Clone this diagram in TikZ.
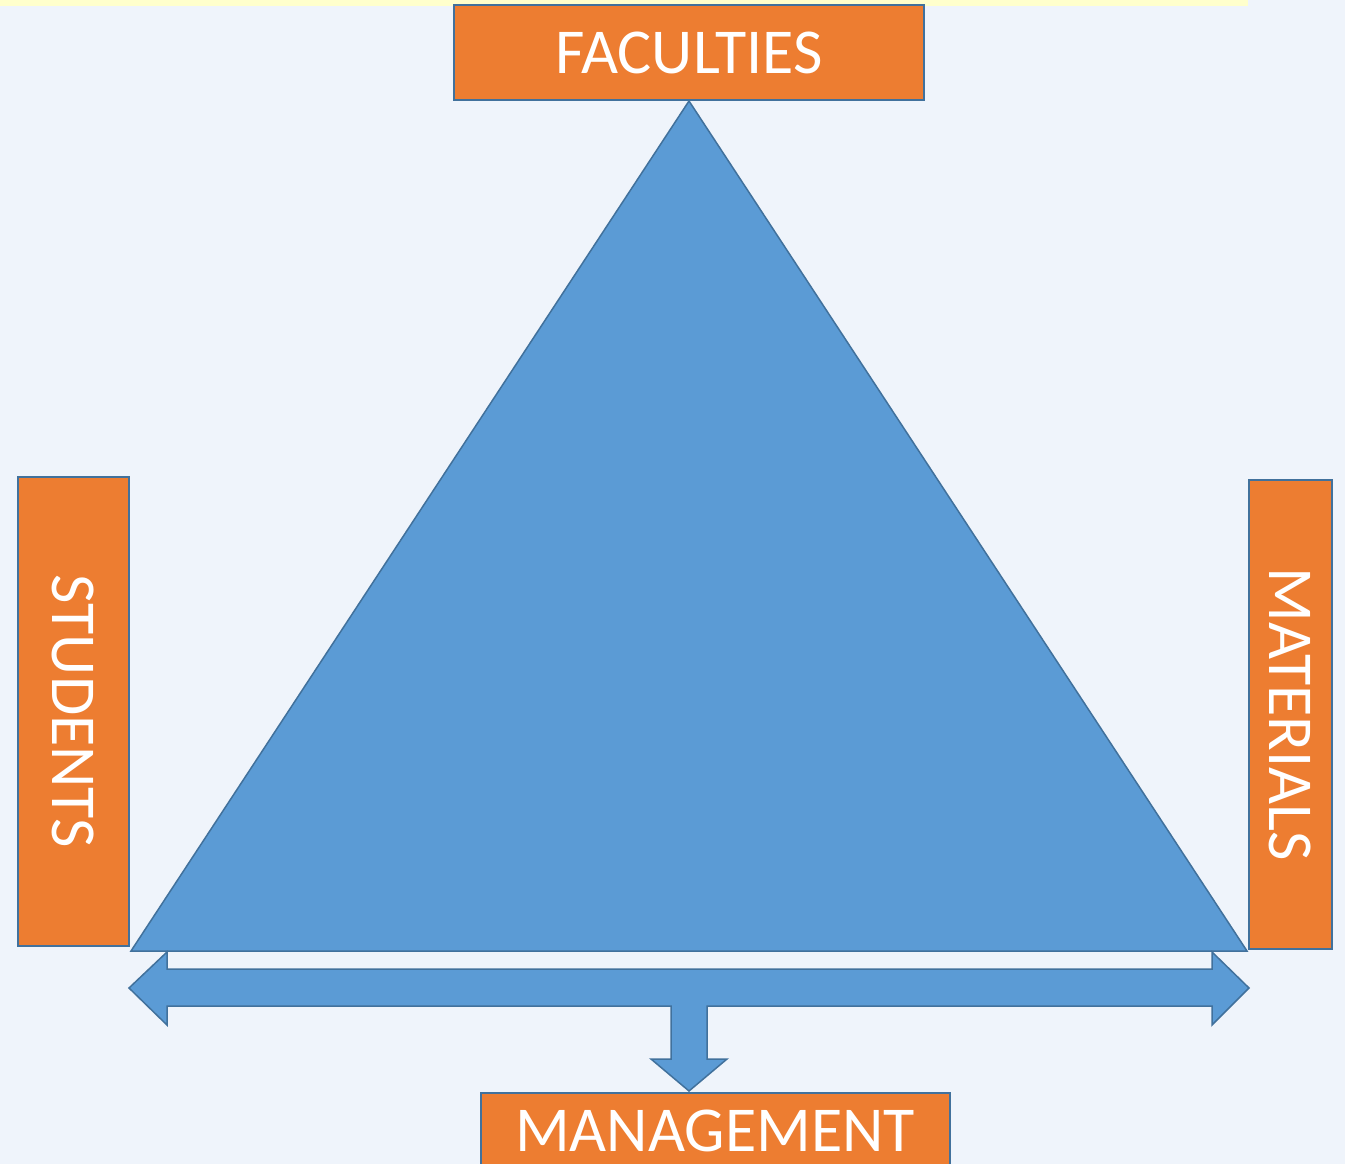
\documentclass[tikz,border=0pt]{standalone}
\usepackage{fontspec}
\setmainfont{Carlito}
\usetikzlibrary{positioning}

\definecolor{pagebg}{HTML}{EFF4FB}
\definecolor{stripyellow}{HTML}{FFFFCC}
\definecolor{boxorange}{HTML}{ED7D31}
\definecolor{shapeblue}{HTML}{5B9BD5}
\definecolor{edgeblue}{HTML}{41719C}

\begin{document}
\begin{tikzpicture}[x=1pt,y=-1pt]
    \tikzset{block/.style= {draw=edgeblue, line width=2pt, fill=boxorange, text=white, inner sep=0pt, font=\fontsize{64}{70}\selectfont},
             bigshape/.style= {draw=edgeblue, line width=1.5pt, fill=shapeblue, line join=miter},}

    \useasboundingbox (0,0) rectangle (1345,1164);
    \clip (0,0) rectangle (1345,1164);
    \fill[pagebg] (0,0) rectangle (1345,1164);
    \fill[stripyellow] (0,0) rectangle (1248,6);

    \coordinate (top) at (689,101);
    \coordinate (bl) at (131,951);
    \coordinate (br) at (1247,951);
    \coordinate (tip) at (689,1091);

    \draw[bigshape] (top) -- (br) -- (bl) -- cycle;

    % arrow to both sides and down
    \draw[bigshape] (129,988) -- (167,952) -- (167,969) -- (1212,969) -- (1212,952)
                    -- (1249,988) -- (1212,1025) -- (1212,1006) -- (707,1006) -- (707,1059)
                    -- (727,1059) -- (tip) -- (651,1059) -- (671,1059) -- (671,1006)
                    -- (167,1006) -- (167,1025) -- cycle;

    \node [block, above=0pt of top, minimum width=470pt, minimum height=95pt] (fac) {FACULTIES};
    \node [block, above left=4pt and 1pt of bl, minimum width=111pt, minimum height=469pt] (stu) {\rotatebox{-90}{STUDENTS}};
    \node [block, above right=1pt and 1pt of br, minimum width=83pt, minimum height=469pt] (mat) {\rotatebox{-90}{MATERIALS}};
    \node [block, below=1pt of tip, xshift=26pt, minimum width=469pt, minimum height=76pt] (man) {MANAGEMENT};
\end{tikzpicture}
\end{document}
